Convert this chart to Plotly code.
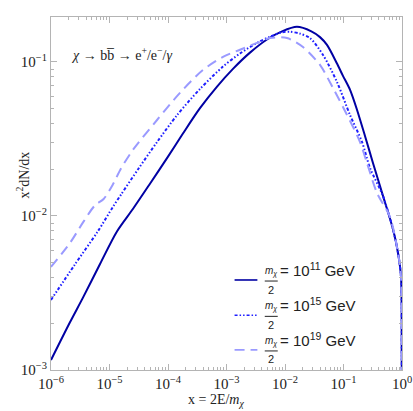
import plotly.graph_objects as go

# x = 2E/m_chi, y = x^2 dN/dx
x_m11 = [1.0e-6, 2.11e-6, 3.52e-6, 6.92e-6, 1.34e-5, 2.51e-5, 4.92e-5, 1.0e-4, 1.80e-4,
         3.52e-4, 6.89e-4, 1.29e-3, 2.52e-3, 4.92e-3, 8.91e-3, 1.60e-2, 2.82e-2, 3.96e-2,
         5.22e-2, 7.74e-2, 9.79e-2, 0.129, 0.170, 0.233, 0.319, 0.473, 0.701, 0.855,
         0.962, 0.989, 0.998]
y_m11 = [1.16e-3, 2.04e-3, 2.95e-3, 4.90e-3, 7.94e-3, 1.11e-2, 1.62e-2, 2.43e-2, 3.43e-2,
         5.01e-2, 6.92e-2, 9.02e-2, 0.115, 0.140, 0.158, 0.169, 0.158, 0.145,
         0.129, 9.77e-2, 8.13e-2, 6.61e-2, 4.90e-2, 3.31e-2, 2.21e-2, 1.35e-2, 8.22e-3, 5.75e-3,
         4.02e-3, 1.26e-3, 2.5e-4]

x_m15 = [1.0e-6, 2.51e-6, 6.31e-6, 1.15e-5, 1.58e-5, 3.16e-5, 6.49e-5, 1.43e-4,
         3.52e-4, 8.71e-4, 1.70e-3, 3.32e-3, 5.55e-3, 8.91e-3, 1.22e-2, 1.78e-2, 2.67e-2,
         4.47e-2, 7.74e-2, 0.129, 0.207, 0.284, 0.473, 0.701, 0.855, 0.962, 0.989, 0.998]
y_m15 = [2.85e-3, 4.79e-3, 7.94e-3, 1.15e-2, 1.38e-2, 2.04e-2, 3.02e-2, 4.52e-2,
         6.68e-2, 9.33e-2, 0.1135, 0.133, 0.146, 0.156, 0.157, 0.153, 0.143,
         0.111, 7.41e-2, 4.53e-2, 3.03e-2, 2.05e-2, 1.35e-2, 8.22e-3, 5.75e-3, 4.02e-3, 1.26e-3, 2.5e-4]

x_m19 = [1.0e-6, 2.11e-6, 3.55e-6, 5.62e-6, 7.94e-6, 1.12e-5, 1.58e-5, 2.52e-5, 6.49e-5,
         1.60e-4, 3.96e-4, 8.71e-4, 1.70e-3, 3.32e-3, 5.55e-3, 1.08e-2, 2.03e-2, 3.96e-2,
         6.61e-2, 0.115, 0.191, 0.252, 0.374, 0.624, 0.855, 0.962, 0.989, 0.998]
y_m19 = [4.67e-3, 6.68e-3, 9.12e-3, 1.17e-2, 1.29e-2, 1.58e-2, 2.04e-2, 2.69e-2, 4.20e-2,
         6.30e-2, 8.87e-2, 0.108, 0.120, 0.133, 0.143, 0.143, 0.125, 9.57e-2,
         6.78e-2, 4.53e-2, 3.03e-2, 2.21e-2, 1.41e-2, 9.86e-3, 5.75e-3, 4.02e-3, 1.26e-3, 2.5e-4]

exponents = ["11", "15", "19"]
x_ticks = [1e-6, 1e-5, 1e-4, 1e-3, 1e-2, 1e-1, 1]
x_ticktext = ["10<sup>\u22126</sup>", "10<sup>\u22125</sup>", "10<sup>\u22124</sup>",
              "10<sup>\u22123</sup>", "10<sup>\u22122</sup>", "10<sup>\u22121</sup>", "10<sup>0</sup>"]
y_ticks = [1e-3, 1e-2, 1e-1]
y_ticktext = ["10<sup>\u22123</sup>", "10<sup>\u22122</sup>", "10<sup>\u22121</sup>"]

SERIF = "Liberation Serif, Times New Roman, serif"
SANS = "Liberation Sans, Arial, sans-serif"
styles = [
    dict(color="#0000a3", width=2, dash="solid"),
    dict(color="#1f1fff", width=2, dash="3px,2px,1.5px,2px,1.5px,2px"),
    dict(color="#9a9aff", width=2, dash="10px,6px"),
]

fig = go.Figure()
for xs, ys, st in zip([x_m11, x_m15, x_m19], [y_m11, y_m15, y_m19], styles):
    fig.add_trace(go.Scatter(x=xs, y=ys, mode="lines", line=dict(shape="spline", smoothing=0.8, **st),
                             showlegend=False, hoverinfo="skip"))

axis_common = dict(
    type="log", showgrid=False, zeroline=False, automargin=False,
    showline=True, linecolor="#b4b4b4", linewidth=1, mirror="allticks",
    ticks="inside", ticklen=6, tickcolor="#b4b4b4", tickwidth=1,
    tickfont=dict(family=SERIF, size=15, color="#222"),
    minor=dict(ticks="inside", ticklen=3, tickcolor="#b4b4b4", dtick="D1", showgrid=False),
)
fig.update_xaxes(range=[-6, 0], tickmode="array", tickvals=x_ticks, ticktext=x_ticktext, **axis_common)
fig.update_yaxes(range=[-3, -0.708], tickmode="array", tickvals=y_ticks, ticktext=y_ticktext, **axis_common)

# titles
fig.add_annotation(text="x = 2E/<i>m</i><sub><i>\u03c7</i></sub>", xref="paper", yref="paper",
                   x=0.47, y=-0.086, yanchor="middle", showarrow=False,
                   font=dict(family=SERIF, size=14, color="#222"))
fig.add_annotation(text="x<sup>2</sup>dN/dx", xref="paper", yref="paper", textangle=-90,
                   x=-0.11, y=0.552, showarrow=False,
                   font=dict(family=SERIF, size=14, color="#222"))
fig.add_annotation(text="<i>\u03c7</i> \u2192 bb\u0305 \u2192 e<sup>+</sup>/e<sup>\u2212</sup>/<i>\u03b3</i>",
                   xref="paper", yref="paper", x=0.052, y=0.925, xanchor="left", showarrow=False,
                   font=dict(family=SERIF, size=14, color="#222"))

# hand-built legend with the fraction m_chi / 2
leg_y = [0.255, 0.155, 0.057]
for ly, st, ex in zip(leg_y, styles, exponents):
    fig.add_shape(type="line", xref="paper", yref="paper", x0=0.523, x1=0.588, y0=ly, y1=ly,
                  line=dict(color=st["color"], width=1.6, dash=st["dash"]))
    fig.add_annotation(text="<i>m</i><sub><i>\u03c7</i></sub>", xref="paper", yref="paper",
                       x=0.628, y=ly + 0.025, yanchor="middle", showarrow=False,
                       font=dict(family=SANS, size=10, color="#222"))
    fig.add_shape(type="line", xref="paper", yref="paper", x0=0.609, x1=0.646, y0=ly - 0.003, y1=ly - 0.003,
                  line=dict(color="#222", width=1))
    fig.add_annotation(text="2", xref="paper", yref="paper",
                       x=0.628, y=ly - 0.027, yanchor="middle", showarrow=False,
                       font=dict(family=SANS, size=11, color="#222"))
    fig.add_annotation(text="= 10<sup>" + ex + "</sup> GeV", xref="paper", yref="paper",
                       x=0.648, y=ly - 0.002, xanchor="left", showarrow=False,
                       font=dict(family=SANS, size=15, color="#222"))

fig.update_layout(
    width=413, height=411,
    margin=dict(l=51, r=11, t=17, b=41),
    plot_bgcolor="white", paper_bgcolor="white",
    showlegend=False,
)
# page default body margin would shift the chart by 8px
fig.write_html("out.html", config={"displayModeBar": False},
               post_script="document.body.style.margin='0';document.body.style.overflow='hidden';")
